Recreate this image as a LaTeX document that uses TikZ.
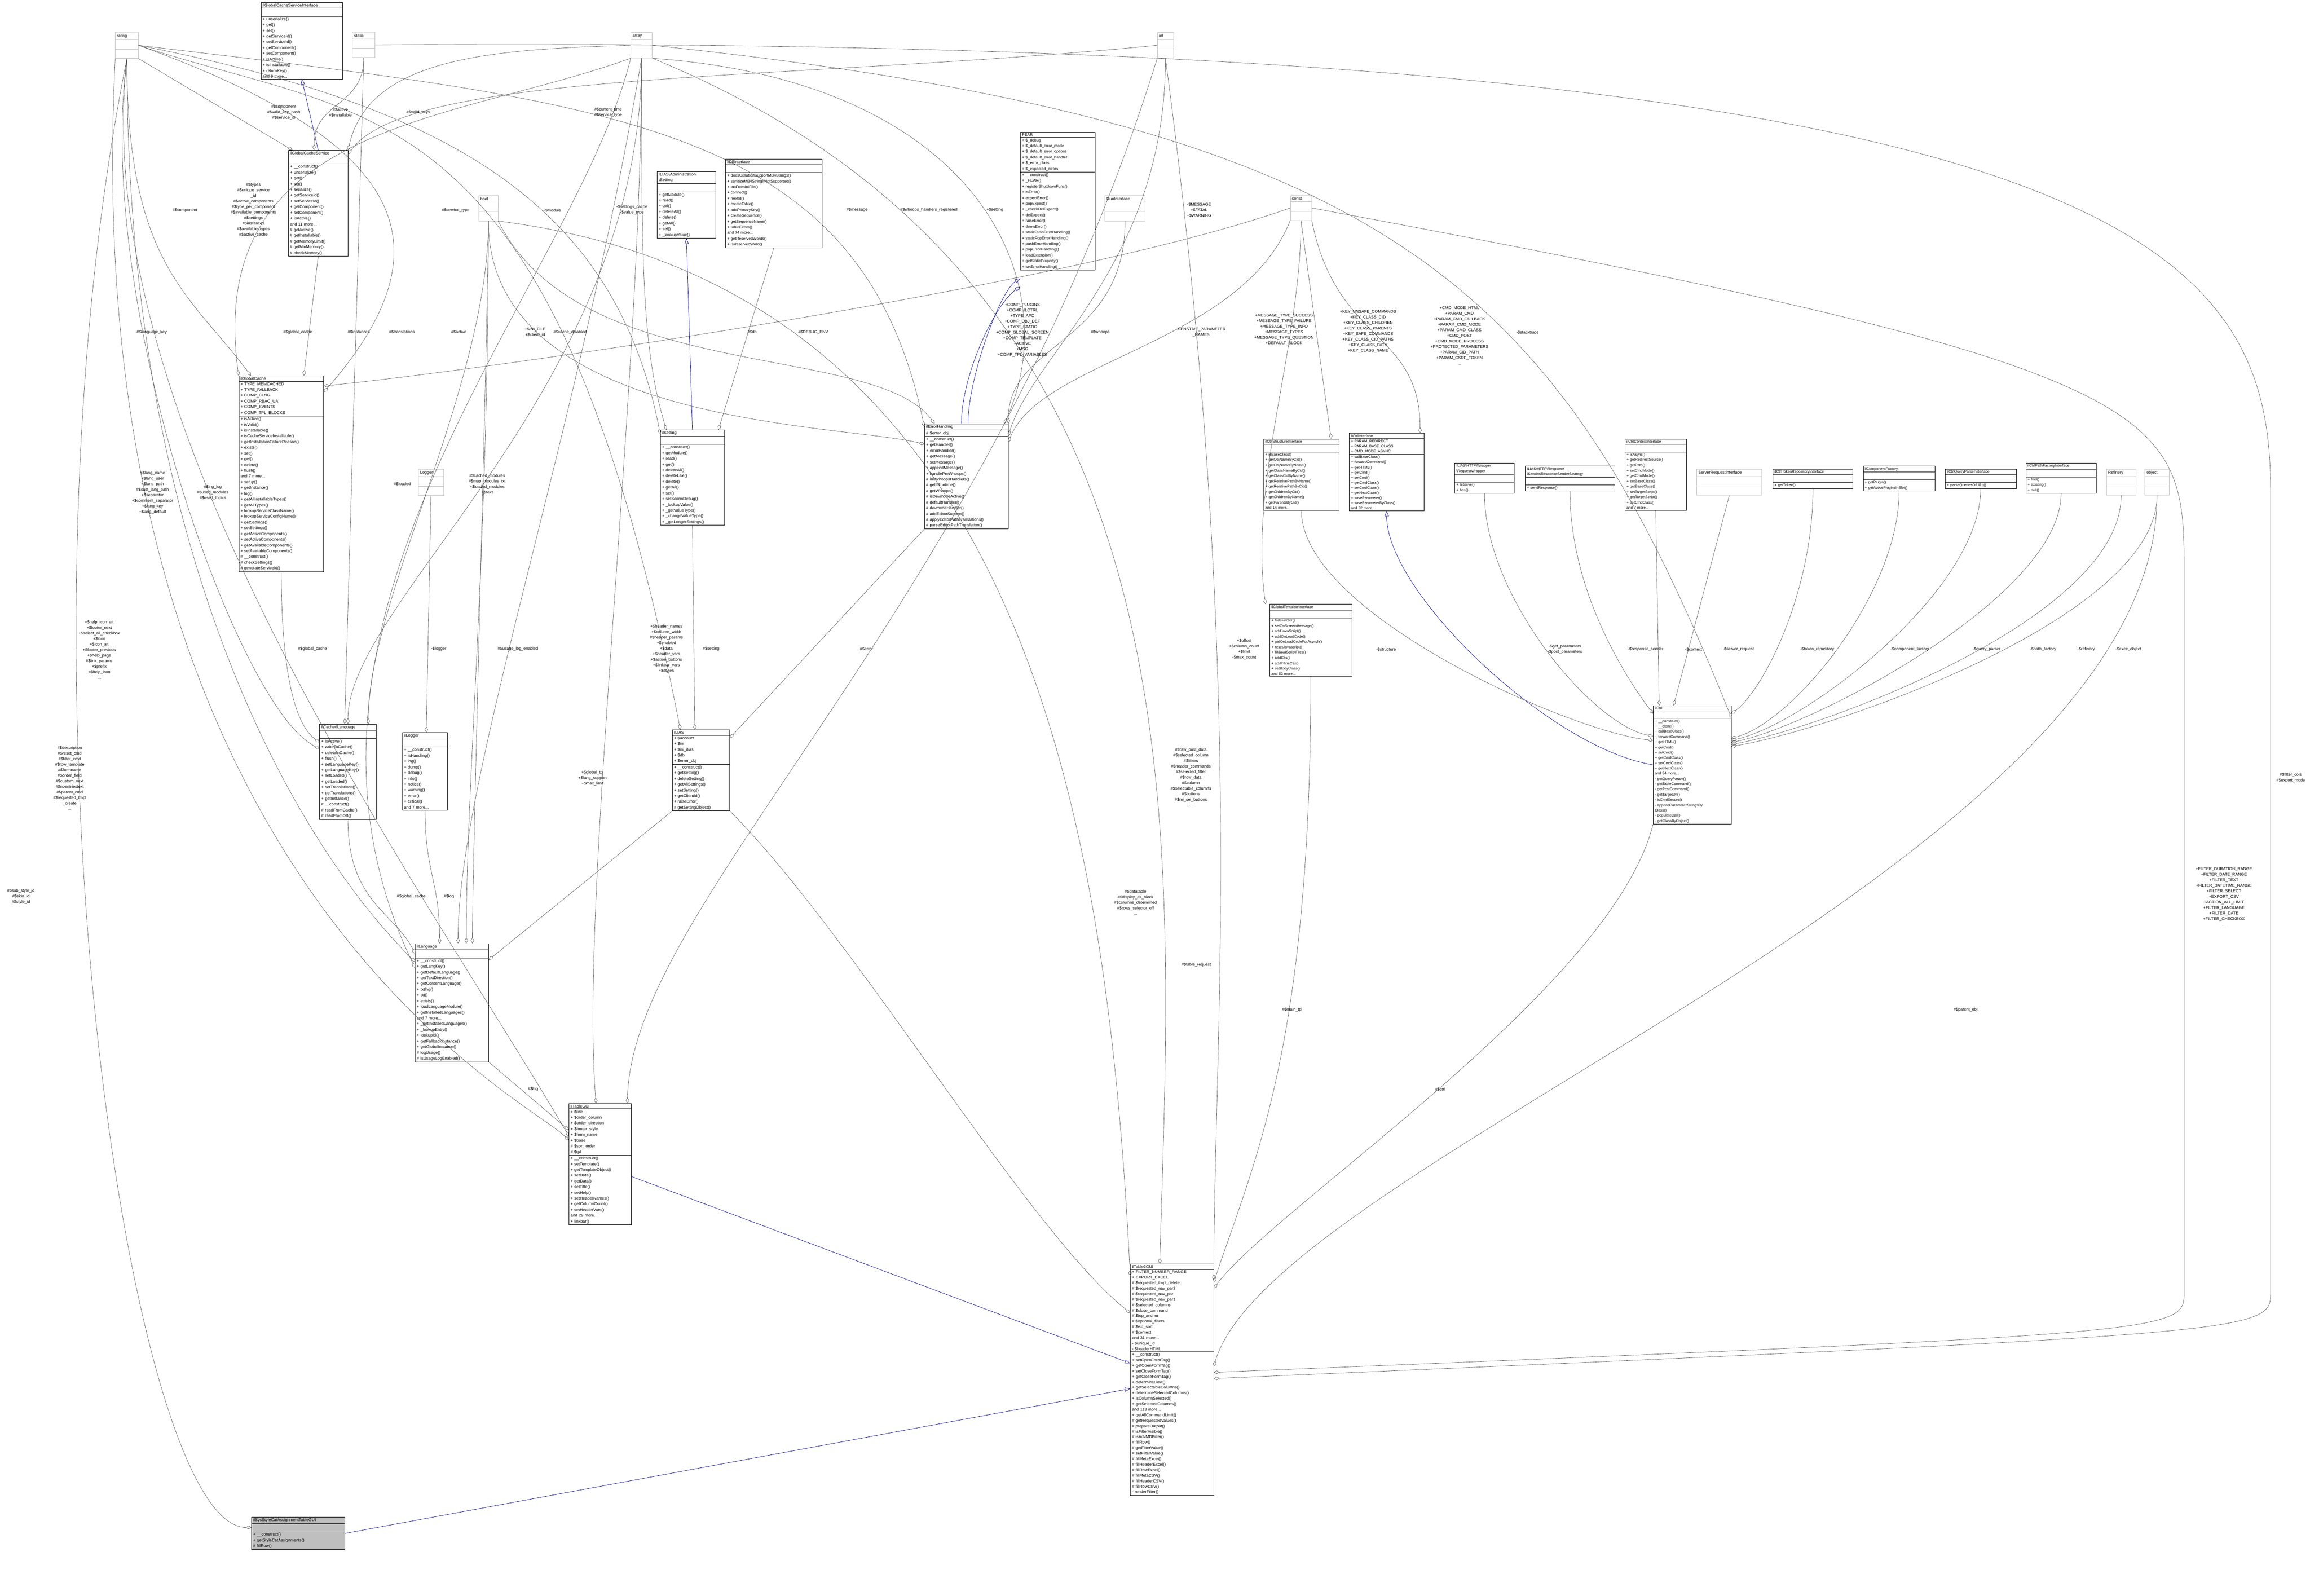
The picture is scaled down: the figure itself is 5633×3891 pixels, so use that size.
\documentclass[tikz,border=0pt]{standalone}
\usepackage{fontspec}
\setmainfont{Liberation Sans}
\usetikzlibrary{shapes.multipart,arrows.meta}
\begin{document}
\begin{tikzpicture}[x=1pt,y=-1pt,
 cls/.style={rectangle split, rectangle split parts=3, draw=black, line width=0.9pt, anchor=north west,
   inner xsep=4pt, inner ysep=2.5pt, font=\fontsize{10}{14}\selectfont, rectangle split part align={center,left,left}, fill=white},
 gbox/.style={cls, draw=gray!50, inner ysep=4pt},
 agg/.style={draw=black!70, line width=0.7pt, -{Diamond[open,length=14pt,width=8pt]}},
 inh/.style={draw=blue!50!black, line width=0.8pt, -{Triangle[open,length=13pt,width=10pt]}},
 lbl/.style={font=\fontsize{10}{13.5}\selectfont, align=center, inner sep=1pt}]
\useasboundingbox[fill=white] (0,0) rectangle (5633,3891);
% ---------------- top type boxes
\node[gbox,text width=48] (string) at (281,78) {string\nodepart{two}\strut\nodepart{three}\strut};
\node[gbox,text width=47] (static) at (859,78) {static\nodepart{two}\strut\nodepart{three}\strut};
\node[gbox,text width=44] (array) at (1538,79) {array\nodepart{two}\strut\nodepart{three}\strut};
\node[gbox,text width=31] (int) at (2822,79) {int\nodepart{two}\strut\nodepart{three}\strut};
\node[gbox,text width=39] (bool) at (1167,476) {bool\nodepart{two}\strut\nodepart{three}\strut};
\node[gbox,text width=44] (const) at (3146,476) {const\nodepart{two}\strut\nodepart{three}\strut};
\node[gbox,text width=90] (runi) at (2694,476) {RunInterface\nodepart{two}\strut\nodepart{three}\strut};
\node[gbox,text width=53] (logger) at (1020,1144) {Logger\nodepart{two}\strut\nodepart{three}\strut};
\node[gbox,text width=151] (sri) at (4137,1143) {ServerRequestInterface\nodepart{two}\strut\nodepart{three}\strut};
\node[gbox,text width=64] (refinery) at (5136,1143) {Refinery\nodepart{two}\strut\nodepart{three}\strut};
\node[gbox,text width=51] (object) at (5230,1143) {object\nodepart{two}\strut\nodepart{three}\strut};
% ---------------- classes
\node[cls,text width=191] (gcsi) at (636,6) {ilGlobalCacheServiceInterface\nodepart{two}\strut\nodepart{three}
+ unserialize()\\+ get()\\+ set()\\+ getServiceId()\\+ setServiceId()\\+ getComponent()\\+ setComponent()\\+ isActive()\\+ isInstallable()\\+ returnKey()\\and 9 more...};
\node[cls,text width=137] (gcs) at (703,366) {ilGlobalCacheService\nodepart{two}\strut\nodepart{three}
+ \_\_construct()\\+ unserialize()\\+ get()\\+ set()\\+ serialize()\\+ getServiceId()\\+ setServiceId()\\+ getComponent()\\+ setComponent()\\+ isActive()\\and 11 more...\\\# getActive()\\\# getInstallable()\\\# getMemoryLimit()\\\# getMinMemory()\\\# checkMemory()};
\node[cls,text width=199] (gc) at (582,916) {ilGlobalCache\nodepart{two}
+ TYPE\_MEMCACHED\\+ TYPE\_FALLBACK\\+ COMP\_CLNG\\+ COMP\_RBAC\_UA\\+ COMP\_EVENTS\\+ COMP\_TPL\_BLOCKS\nodepart{three}
+ isActive()\\+ isValid()\\+ isInstallable()\\+ isCacheServiceInstallable()\\+ getInstallationFailureReason()\\+ exists()\\+ set()\\+ get()\\+ delete()\\+ flush()\\and 7 more...\\+ setup()\\+ getInstance()\\+ log()\\+ getAllInstallableTypes()\\+ getAllTypes()\\+ lookupServiceClassName()\\+ lookupServiceConfigName()\\+ getSettings()\\+ setSettings()\\+ getActiveComponents()\\+ setActiveComponents()\\+ getAvailableComponents()\\+ setAvailableComponents()\\\# \_\_construct()\\\# checkSettings()\\\# generateServiceId()};
\node[cls,text width=130] (acl) at (779,1765) {ilCachedLanguage\nodepart{two}\strut\nodepart{three}
+ isActive()\\+ writeToCache()\\+ deleteInCache()\\+ flush()\\+ setLanguageKey()\\+ getLanguageKey()\\+ setLoaded()\\+ getLoaded()\\+ setTranslations()\\+ getTranslations()\\+ getInstance()\\\# \_\_construct()\\\# readFromCache()\\\# readFromDB()};
\node[cls,text width=102] (illog) at (981,1786) {ilLogger\nodepart{two}\strut\nodepart{three}
+ \_\_construct()\\+ isHandling()\\+ log()\\+ dump()\\+ debug()\\+ info()\\+ notice()\\+ warning()\\+ error()\\+ critical()\\and 7 more...};
\node[cls,text width=171] (lng) at (1012,2300) {ilLanguage\nodepart{two}\strut\nodepart{three}
+ \_\_construct()\\+ getLangKey()\\+ getDefaultLanguage()\\+ getTextDirection()\\+ getContentLanguage()\\+ txtlng()\\+ txt()\\+ exists()\\+ loadLanguageModule()\\+ getInstalledLanguages()\\and 7 more...\\+ \_getInstalledLanguages()\\+ \_lookupEntry()\\+ lookupId()\\+ getFallbackInstance()\\+ getGlobalInstance()\\\# logUsage()\\\# isUsageLogEnabled()};
\node[cls,text width=144] (tgui) at (1387,2690) {ilTableGUI\nodepart{two}
+ \$title\\+ \$order\_column\\+ \$order\_direction\\+ \$footer\_style\\+ \$form\_name\\+ \$base\\\# \$sort\_order\\\# \$tpl\nodepart{three}
+ \_\_construct()\\+ setTemplate()\\+ getTemplateObject()\\+ setData()\\+ getData()\\+ setTitle()\\+ setHelp()\\+ setHeaderNames()\\+ getColumnCount()\\+ setHeaderVars()\\and 29 more...\\+ linkbar()};
\node[cls,text width=195,font=\fontsize{10}{13.4}\selectfont] (t2gui) at (2756,3081) {ilTable2GUI\nodepart{two}
+ FILTER\_NUMBER\_RANGE\\+ EXPORT\_EXCEL\\\# \$requested\_tmpl\_delete\\\# \$requested\_nav\_par2\\\# \$requested\_nav\_par\\\# \$requested\_nav\_par1\\\# \$selected\_columns\\\# \$close\_command\\\# \$top\_anchor\\\# \$optional\_filters\\\# \$ext\_sort\\\# \$context\\and 31 more...\\- \$unique\_id\\- \$headerHTML\nodepart{three}
+ \_\_construct()\\+ setOpenFormTag()\\+ getOpenFormTag()\\+ setCloseFormTag()\\+ getCloseFormTag()\\+ determineLimit()\\+ getSelectableColumns()\\+ determineSelectedColumns()\\+ isColumnSelected()\\+ getSelectedColumns()\\and 113 more...\\+ getAllCommandLimit()\\\# getRequestedValues()\\\# prepareOutput()\\\# isFilterVisible()\\\# isAdvMDFilter()\\\# fillRow()\\\# getFilterValue()\\\# setFilterValue()\\\# fillMetaExcel()\\\# fillHeaderExcel()\\\# fillRowExcel()\\\# fillMetaCSV()\\\# fillHeaderCSV()\\\# fillRowCSV()\\- renderFilter()};
\node[cls,text width=219,fill=gray!50] (sys) at (613,3699) {ilSysStyleCatAssignmentTableGUI\nodepart{two}\strut\nodepart{three}
+ \_\_construct()\\+ getStyleCatAssignments()\\\# fillRow()};
\node[cls,text width=135] (adms) at (1602,418) {ILIAS\textbackslash Administration\\\textbackslash Setting\nodepart{two}\strut\nodepart{three}
+ getModule()\\+ read()\\+ get()\\+ deleteAll()\\+ delete()\\+ getAll()\\+ set()\\+ \_lookupValue()};
\node[cls,text width=227,font=\fontsize{9.5}{14}\selectfont] (db) at (1769,388) {ilDBInterface\nodepart{two}\strut\nodepart{three}
+ doesCollationSupportMB4Strings()\\+ sanitizeMB4StringIfNotSupported()\\+ initFromIniFile()\\+ connect()\\+ nextId()\\+ createTable()\\+ addPrimaryKey()\\+ createSequence()\\+ getSequenceName()\\+ tableExists()\\and 74 more...\\+ getReservedWords()\\+ isReservedWord()};
\node[cls,text width=148] (set) at (1610,1048) {ilSetting\nodepart{two}\strut\nodepart{three}
+ \_\_construct()\\+ getModule()\\+ read()\\+ get()\\+ deleteAll()\\+ deleteLike()\\+ delete()\\+ getAll()\\+ set()\\+ setScormDebug()\\+ \_lookupValue()\\+ \_getValueType()\\+ \_changeValueType()\\+ \_getLongerSettings()};
\node[cls,text width=132] (ilias) at (1639,1779) {ILIAS\nodepart{two}
+ \$account\\+ \$ini\\+ \$ini\_ilias\\+ \$db\\+ \$error\_obj\nodepart{three}
+ \_\_construct()\\+ getSetting()\\+ deleteSetting()\\+ getAllSettings()\\+ setSetting()\\+ getClientId()\\+ raiseError()\\\# getSettingObject()};
\node[cls,text width=196] (err) at (2254,1033) {ilErrorHandling\nodepart{two}
\# \$error\_obj\nodepart{three}
+ \_\_construct()\\+ getHandler()\\+ errorHandler()\\+ getMessage()\\+ setMessage()\\+ appendMessage()\\+ handlePreWhoops()\\\# initWhoopsHandlers()\\\# getIlRuntime()\\\# getWhoops()\\\# isDevmodeActive()\\\# defaultHandler()\\\# devmodeHandler()\\\# addEditorSupport()\\\# applyEditorPathTranslations()\\\# parseEditorPathTranslation()};
\node[cls,text width=174,font=\fontsize{9.5}{14}\selectfont] (pear) at (2488,322) {PEAR\nodepart{two}
+ \$\_debug\\+ \$\_default\_error\_mode\\+ \$\_default\_error\_options\\+ \$\_default\_error\_handler\\+ \$\_error\_class\\+ \$\_expected\_errors\nodepart{three}
+ \_\_construct()\\+ \_PEAR()\\+ registerShutdownFunc()\\+ isError()\\+ expectError()\\+ popExpect()\\+ \_checkDelExpect()\\+ delExpect()\\+ raiseError()\\+ throwError()\\+ staticPushErrorHandling()\\+ staticPopErrorHandling()\\+ pushErrorHandling()\\+ popErrorHandling()\\+ loadExtension()\\+ getStaticProperty()\\+ setErrorHandling()};
\node[cls,text width=192,font=\fontsize{9}{13}\selectfont] (gti) at (3096,1473) {ilGlobalTemplateInterface\nodepart{two}\strut\nodepart{three}
+ hideFooter()\\+ setOnScreenMessage()\\+ addJavaScript()\\+ addOnLoadCode()\\+ getOnLoadCodeForAsynch()\\+ resetJavascript()\\+ fillJavaScriptFiles()\\+ addCss()\\+ addInlineCss()\\+ setBodyClass()\\and 53 more...};
\node[cls,text width=176,font=\fontsize{9}{13}\selectfont] (csi) at (3081,1070) {ilCtrlStructureInterface\nodepart{two}\strut\nodepart{three}
+ isBaseClass()\\+ getObjNameByCid()\\+ getObjNameByName()\\+ getClassNameByCid()\\+ getClassCidByName()\\+ getRelativePathByName()\\+ getRelativePathByCid()\\+ getChildrenByCid()\\+ getChildrenByName()\\+ getParentsByCid()\\and 14 more...};
\node[cls,text width=174,font=\fontsize{9}{12.5}\selectfont] (cint) at (3290,1056) {ilCtrlInterface\nodepart{two}
+ PARAM\_REDIRECT\\+ PARAM\_BASE\_CLASS\\+ CMD\_MODE\_ASYNC\nodepart{three}
+ callBaseClass()\\+ forwardCommand()\\+ getHTML()\\+ getCmd()\\+ setCmd()\\+ getCmdClass()\\+ setCmdClass()\\+ getNextClass()\\+ saveParameter()\\+ saveParameterByClass()\\and 32 more...};
\node[cls,text width=137,font=\fontsize{9}{13}\selectfont] (rw) at (3547,1129) {ILIAS\textbackslash HTTP\textbackslash Wrapper\\\textbackslash RequestWrapper\nodepart{two}\strut\nodepart{three}
+ retrieve()\\+ has()};
\node[cls,text width=210,font=\fontsize{9}{13}\selectfont] (rss) at (3719,1136) {ILIAS\textbackslash HTTP\textbackslash Response\\\textbackslash Sender\textbackslash ResponseSenderStrategy\nodepart{two}\strut\nodepart{three}
+ sendResponse()};
\node[cls,text width=142,font=\fontsize{9}{13}\selectfont] (cci) at (3962,1070) {ilCtrlContextInterface\nodepart{two}\strut\nodepart{three}
+ isAsync()\\+ getRedirectSource()\\+ getPath()\\+ setCmdMode()\\+ getCmdMode()\\+ setBaseClass()\\+ getBaseClass()\\+ setTargetScript()\\+ getTargetScript()\\+ setCmdClass()\\and 7 more...};
\node[cls,text width=187,font=\fontsize{9}{13}\selectfont] (ctr) at (4323,1143) {ilCtrlTokenRepositoryInterface\nodepart{two}\strut\nodepart{three}
+ getToken()};
\node[cls,text width=167,font=\fontsize{9}{13}\selectfont] (cf) at (4543,1136) {ilComponentFactory\nodepart{two}\strut\nodepart{three}
+ getPlugin()\\+ getActivePluginsInSlot()};
\node[cls,text width=165,font=\fontsize{9}{13}\selectfont] (cqp) at (4743,1143) {ilCtrlQueryParserInterface\nodepart{two}\strut\nodepart{three}
+ parseQueriesOfURL()};
\node[cls,text width=163,font=\fontsize{9}{13}\selectfont] (cpf) at (4940,1129) {ilCtrlPathFactoryInterface\nodepart{two}\strut\nodepart{three}
+ find()\\+ existing()\\+ null()};
\node[cls,text width=182,font=\fontsize{9}{12.8}\selectfont] (ctrl) at (4031,1720) {ilCtrl\nodepart{two}\strut\nodepart{three}
+ \_\_construct()\\+ \_\_clone()\\+ callBaseClass()\\+ forwardCommand()\\+ getHTML()\\+ getCmd()\\+ setCmd()\\+ getCmdClass()\\+ setCmdClass()\\+ getNextClass()\\and 34 more...\\- getQueryParam()\\- getTableCommand()\\- getPostCommand()\\- getTargetUrl()\\- isCmdSecure()\\- appendParameterStringsBy\\Class()\\- populateCall()\\- getClassByObject()};
% ---------------- inheritance
\draw[inh] (gcs.north) -- (gcsi.south);
\draw[inh] (set.north) -- (adms.south);
\draw[inh] ([xshift=-12pt]err.north) .. controls +(0,-120) and +(-60,40) .. ([yshift=-40pt]pear.south west);
\draw[inh] ([xshift=4pt]err.north) .. controls +(0,-110) and +(-50,30) .. ([yshift=-20pt]pear.south west);
\draw[inh] (ctrl.west) .. controls +(-250,-40) and +(0,200) .. (cint.south);
\draw[inh] ([yshift=-30pt]tgui.east) -- ([yshift=40pt]t2gui.west);
\draw[inh] (sys.east) -- ([yshift=-22pt]t2gui.west);
% ---------------- aggregations
\draw[agg] (string.south east) -- ([xshift=10pt]gcs.north west);
\draw[agg] (static.south) .. controls +(0,120) and +(0,-120) .. ([xshift=-10pt]gcs.north);
\draw[agg] (array.west) .. controls (1200,120) and (900,140) .. (gcs.north east);
\draw[agg] (int.west) .. controls (1900,200) and (1000,170) .. ([yshift=-10pt]gcs.north east);
\draw[agg] (gcs.south) -- ([xshift=55pt]gc.north);
\draw[agg] (string.south) .. controls +(0,500) and +(-150,-200) .. ([xshift=30pt]gc.north west);
\draw[agg] (array.south west) .. controls (1100,300) and (500,300) .. (gc.north west);
\draw[agg] (string.south) .. controls +(-80,600) and +(-200,-100) .. ([yshift=-60pt]acl.north west);
\draw[agg] (static.south) -- ([xshift=-8pt]acl.north);
\draw[agg] (array.south) .. controls +(0,800) and +(0,-300) .. (acl.north);
\draw[agg] (bool.south) .. controls +(0,400) and +(0,-300) .. ([xshift=-20pt]acl.north east);
\draw[agg] (gc.south) .. controls +(0,150) and +(-80,-60) .. ([yshift=-45pt]acl.north west);
\draw[agg] (string.east) .. controls (900,300) and (1350,200) .. ([xshift=20pt]ilias.north west);
\draw[agg] (string.east) .. controls (1000,350) and (1100,600) .. ([yshift=-40pt]gc.north east);
\draw[agg] (string.east) .. controls (1100,260) and (1500,500) .. ([yshift=-10pt]set.north west);
\draw[agg] (array.south) .. controls +(0,500) and +(-60,-200) .. ([xshift=15pt]set.north west);
\draw[agg] (db.south) -- ([xshift=-15pt]set.north east);
\draw[agg] (string.east) .. controls (1500,250) and (2100,300) .. ([yshift=-8pt]err.north west);
\draw[agg] (bool.south east) .. controls +(200,400) and +(-150,-200) .. ([xshift=25pt]err.north west);
\draw[agg] (array.south east) .. controls (2400,200) and (2600,700) .. ([xshift=-10pt]err.north east);
\draw[agg] (int.south) .. controls +(0,500) and +(60,-200) .. ([yshift=-30pt]err.north east);
\draw[agg] (bool.south) .. controls +(0,200) and +(0,-200) .. ([xshift=50pt]lng.north);
\draw[agg] (bool.south) .. controls +(0,500) and +(-200,-50) .. ([yshift=-50pt]err.north west);
\draw[agg] (const.west) .. controls (2600,700) and (1200,900) .. ([yshift=-25pt]gc.north east);
\draw[agg] (runi.south) .. controls +(0,300) and +(0,-200) .. (err.north east);
\draw[agg] (const.south west) .. controls +(-120,300) and +(80,-200) .. ([yshift=-45pt]err.north east);
\draw[agg] (const.south) .. controls +(0,300) and +(-40,-300) .. ([xshift=-10pt]gti.north west);
\draw[agg] (const.south) -- ([xshift=-20pt]csi.north east);
\draw[agg] (const.south east) .. controls +(60,300) and +(0,-250) .. ([xshift=-10pt]cint.north east);
\draw[agg] (array.east) .. controls (3400,300) and (3800,700) .. ([yshift=-30pt]ctrl.north east);
\draw[agg] (csi.south) .. controls +(0,250) and +(-200,-20) .. ([yshift=-85pt]ctrl.north west);
\draw[agg] (rw.south) .. controls +(0,250) and +(-150,-30) .. ([yshift=-75pt]ctrl.north west);
\draw[agg] (rss.south) .. controls +(0,250) and +(-60,-80) .. ([yshift=-20pt]ctrl.north west);
\draw[agg] (cci.south) -- ([xshift=15pt]ctrl.north west);
\draw[agg] (sri.south) -- ([xshift=50pt]ctrl.north west);
\draw[agg] (ctr.south) .. controls +(0,250) and +(80,-60) .. ([yshift=-20pt]ctrl.north east);
\draw[agg] (cf.south) .. controls +(0,250) and +(150,-40) .. ([yshift=-80pt]ctrl.north east);
\draw[agg] (cqp.south) .. controls +(0,250) and +(180,-40) .. ([yshift=-85pt]ctrl.north east);
\draw[agg] (cpf.south) .. controls +(0,250) and +(200,-40) .. ([yshift=-90pt]ctrl.north east);
\draw[agg] (refinery.south) .. controls +(0,300) and +(220,-40) .. ([yshift=-95pt]ctrl.north east);
\draw[agg] (object.south) .. controls +(0,300) and +(240,-40) .. ([yshift=-100pt]ctrl.north east);
\draw[agg] (int.south) .. controls +(200,1500) and +(0,-600) .. ([yshift=-40pt]t2gui.north east);
\draw[agg] (gti.south) .. controls +(0,900) and +(100,-300) .. ([yshift=-45pt]t2gui.north east);
\draw[agg] (ctrl.south west) .. controls +(-100,400) and +(150,-200) .. ([yshift=-60pt]t2gui.north east);
\draw[agg] (object.south) .. controls +(0,900) and +(150,-500) .. ([yshift=-250pt]t2gui.north east);
\draw[agg] (const.east) .. controls (5320,900) and (5326,1000) .. (5326,1400) -- (5326,3150) .. controls (5326,3250) .. ([yshift=-265pt]t2gui.north east);
\draw[agg] (static.east) .. controls (5200,80) and (5537,600) .. (5537,1200) -- (5537,3150) .. controls (5537,3250) .. ([yshift=-280pt]t2gui.north east);
\draw[agg] (array.south east) .. controls (2950,700) and (2860,2000) .. ([xshift=-30pt]t2gui.north);
\draw[agg] (bool.south east) .. controls (2500,700) and (2700,2000) .. ([yshift=-30pt]t2gui.north west);
\draw[agg] (ilias.south east) .. controls +(300,300) and +(-250,-200) .. ([yshift=-120pt]t2gui.north west);
\draw[agg] (string.south) .. controls +(-300,1500) and +(-300,0) .. ([yshift=-25pt]sys.north west);
\draw[agg] (string.south west) .. controls +(-100,2000) and +(-100,-100) .. ([yshift=-90pt]tgui.north west);
\draw[agg] (string.south) .. controls +(-100,900) and +(-350,-600) .. ([yshift=-80pt]tgui.north west);
\draw[agg] (lng.south east) -- ([yshift=-65pt]tgui.north west);
\draw[agg] (array.south) .. controls +(0,800) and +(-40,-500) .. ([xshift=-10pt]tgui.north);
\draw[agg] (int.south west) .. controls (2400,1500) and (1540,2200) .. ([xshift=-10pt]tgui.north east);
\draw[agg] (illog.south) .. controls +(0,150) and +(0,-150) .. ([xshift=-30pt]lng.north);
\draw[agg] (acl.south) .. controls +(0,200) and +(-50,-100) .. ([yshift=-25pt]lng.north west);
\draw[agg] (bool.south) .. controls +(0,800) and +(0,-400) .. ([xshift=35pt]lng.north);
\draw[agg] (string.south) .. controls +(0,1200) and +(-300,-300) .. ([yshift=-45pt]lng.north west);
\draw[agg] (array.south west) .. controls (1400,700) and (600,1500) .. ([yshift=-60pt]lng.north west);
\draw[agg] (array.south) .. controls +(-150,900) and +(0,-400) .. ([xshift=15pt]lng.north);
\draw[agg] (logger.south) -- ([xshift=3pt]illog.north);
\draw[agg] (set.south) -- ([xshift=-15pt]ilias.north);
\draw[agg] (err.south west) -- ([yshift=-20pt]ilias.north east);
\draw[agg] (ilias.south west) -- ([yshift=-40pt]lng.north east);
% ---------------- labels
\node[lbl] at (692,274) {\#\$component\\\#\$valid\_key\_hash\\\#\$service\_id};
\node[lbl] at (830,274) {\#\$active\\\#\$installable};
\node[lbl] at (1020,274) {\#\$valid\_keys};
\node[lbl] at (1483,274) {\#\$current\_time\\\#\$service\_type};
\node[lbl] at (618,512) {\#\$types\\\#\$unique\_service\\\_id\\\#\$active\_components\\\#\$type\_per\_component\\\#\$available\_components\\\#\$settings\\\#\$instances\\\#\$available\_types\\\#\$active\_cache};
\node[lbl] at (451,513) {\#\$component};
\node[lbl] at (1111,513) {\#\$service\_type};
\node[lbl] at (1346,513) {+\$module};
\node[lbl] at (726,810) {\#\$global\_cache};
\node[lbl] at (370,810) {\#\$language\_key};
\node[lbl] at (875,810) {\#\$instances};
\node[lbl] at (980,810) {\#\$translations};
\node[lbl] at (1119,810) {\#\$active};
\node[lbl] at (1305,810) {+\$INI\_FILE\\+\$client\_id};
\node[lbl] at (1541,512) {-\$settings\_cache\\-\$value\_type};
\node[lbl] at (2090,512) {\#\$message};
\node[lbl] at (2265,512) {\#\$whoops\_handlers\_registered};
\node[lbl] at (2426,512) {+\$setting};
\node[lbl] at (2924,512) {-\$MESSAGE\\+\$FATAL\\+\$WARNING};
\node[lbl] at (1390,810) {\#\$cache\_disabled};
\node[lbl] at (1834,810) {\#\$db};
\node[lbl] at (1983,810) {\#\$DEBUG\_ENV};
\node[lbl] at (2493,810) {+COMP\_PLUGINS\\+COMP\_ILCTRL\\+TYPE\_APC\\+COMP\_OBJ\_DEF\\+TYPE\_STATIC\\+COMP\_GLOBAL\_SCREEN\\+COMP\_TEMPLATE\\+ACTIVE\\+MSG\\+COMP\_TPL\_VARIABLES\\...};
\node[lbl] at (2683,810) {\#\$whoops};
\node[lbl] at (2929,810) {-SENSTIVE\_PARAMETER\\\_NAMES};
\node[lbl] at (3131,804) {+MESSAGE\_TYPE\_SUCCESS\\+MESSAGE\_TYPE\_FAILURE\\+MESSAGE\_TYPE\_INFO\\+MESSAGE\_TYPES\\+MESSAGE\_TYPE\_QUESTION\\+DEFAULT\_BLOCK};
\node[lbl] at (3336,808) {+KEY\_UNSAFE\_COMMANDS\\+KEY\_CLASS\_CID\\+KEY\_CLASS\_CHILDREN\\+KEY\_CLASS\_PARENTS\\+KEY\_SAFE\_COMMANDS\\+KEY\_CLASS\_CID\_PATHS\\+KEY\_CLASS\_PATH\\+KEY\_CLASS\_NAME};
\node[lbl] at (3559,818) {+CMD\_MODE\_HTML\\+PARAM\_CMD\\+PARAM\_CMD\_FALLBACK\\+PARAM\_CMD\_MODE\\+PARAM\_CMD\_CLASS\\+CMD\_POST\\+CMD\_MODE\_PROCESS\\+PROTECTED\_PARAMETERS\\+PARAM\_CID\_PATH\\+PARAM\_CSRF\_TOKEN\\...};
\node[lbl] at (3725,811) {-\$stacktrace};
\node[lbl] at (3034,1583) {+\$offset\\+\$column\_count\\+\$limit\\-\$max\_count};
\node[lbl] at (3380,1583) {-\$structure};
\node[lbl] at (3816,1583) {-\$get\_parameters\\-\$post\_parameters};
\node[lbl] at (4013,1583) {-\$response\_sender};
\node[lbl] at (4130,1583) {-\$context};
\node[lbl] at (4239,1583) {-\$server\_request};
\node[lbl] at (4431,1583) {-\$token\_repository};
\node[lbl] at (4657,1583) {-\$component\_factory};
\node[lbl] at (4844,1583) {-\$query\_parser};
\node[lbl] at (4982,1583) {-\$path\_factory};
\node[lbl] at (5087,1583) {-\$refinery};
\node[lbl] at (5190,1583) {-\$exec\_object};
\node[lbl] at (5586,1896) {\#\$filter\_cols\\\#\$export\_mode};
\node[lbl] at (5423,2186) {+FILTER\_DURATION\_RANGE\\+FILTER\_DATE\_RANGE\\+FILTER\_TEXT\\+FILTER\_DATETIME\_RANGE\\+FILTER\_SELECT\\+EXPORT\_CSV\\+ACTION\_ALL\_LIMIT\\+FILTER\_LANGUAGE\\+FILTER\_DATE\\+FILTER\_CHECKBOX\\...};
\node[lbl] at (3151,2462) {\#\$main\_tpl};
\node[lbl] at (3512,2656) {\#\$ctrl};
\node[lbl] at (4793,2462) {\#\$parent\_obj};
\node[lbl] at (519,1201) {\#\$lng\_log\\\#\$used\_modules\\\#\$used\_topics};
\node[lbl] at (372,1201) {+\$lang\_name\\+\$lang\_user\\+\$lang\_path\\\#\$cust\_lang\_path\\+\$separator\\+\$comment\_separator\\+\$lang\_key\\+\$lang\_default};
\node[lbl] at (981,1180) {\#\$loaded};
\node[lbl] at (1188,1180) {\#\$cached\_modules\\\#\$map\_modules\_txt\\+\$loaded\_modules\\+\$text};
\node[lbl] at (762,1582) {\#\$global\_cache};
\node[lbl] at (1070,1582) {-\$logger};
\node[lbl] at (1263,1582) {\#\$usage\_log\_enabled};
\node[lbl] at (1625,1582) {+\$header\_names\\+\$column\_width\\\#\$header\_params\\+\$enabled\\+\$data\\+\$header\_vars\\+\$action\_buttons\\+\$linkbar\_vars\\+\$styles};
\node[lbl] at (1734,1582) {\#\$setting};
\node[lbl] at (2113,1582) {\#\$error};
\node[lbl] at (1445,1897) {+\$global\_tpl\\+\$lang\_support\\+\$max\_limit};
\node[lbl] at (2904,1895) {\#\$raw\_post\_data\\\#\$selected\_column\\\#\$filters\\\#\$header\_commands\\\#\$selected\_filter\\\#\$row\_data\\\#\$column\\\#\$selectable\_columns\\\#\$buttons\\\#\$mi\_sel\_buttons\\...};
\node[lbl] at (2769,2200) {\#\$datatable\\\#\$display\_as\_block\\\#\$columns\_determined\\\#\$rows\_selector\_off\\...};
\node[lbl] at (2917,2353) {\#\$table\_request};
\node[lbl] at (242,1584) {+\$help\_icon\_alt\\+\$footer\_next\\+\$select\_all\_checkbox\\+\$icon\\+\$icon\_alt\\+\$footer\_previous\\+\$help\_page\\\#\$link\_params\\+\$prefix\\+\$help\_icon\\...};
\node[lbl] at (170,1897) {\#\$description\\\#\$reset\_cmd\\\#\$filter\_cmd\\\#\$row\_template\\\#\$formname\\\#\$order\_field\\\#\$custom\_next\\\#\$noentriestext\\\#\$parent\_cmd\\\#\$requested\_tmpl\\\_create\\...};
\node[lbl] at (51,2186) {\#\$sub\_style\_id\\\#\$skin\_id\\\#\$style\_id};
\node[lbl] at (1003,2186) {\#\$global\_cache};
\node[lbl] at (1095,2186) {\#\$log};
\node[lbl] at (1300,2656) {\#\$lng};
\end{tikzpicture}
\end{document}
